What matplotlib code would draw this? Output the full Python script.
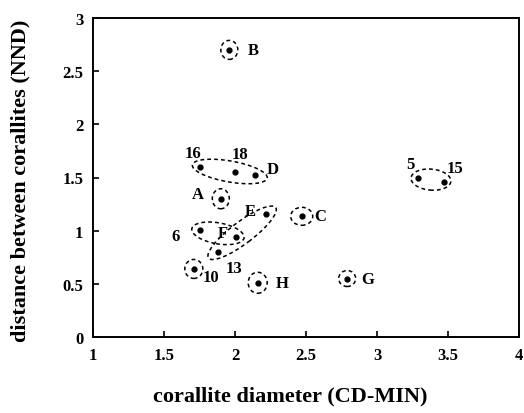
import matplotlib
matplotlib.use("Agg")
import matplotlib.pyplot as plt
import matplotlib.transforms as mtransforms
from matplotlib.patches import Ellipse
import numpy as np

# ---- data ----
labels = ["B", "16", "18", "D", "A", "E", "C", "6", "F", "13", "10", "H", "G", "5", "15"]
cd_min = [1.96, 1.75, 2.00, 2.14, 1.90, 2.22, 2.47, 1.75, 2.01, 1.88, 1.71, 2.16, 2.79, 3.29, 3.47]
nnd = [2.70, 1.60, 1.55, 1.52, 1.30, 1.16, 1.135, 1.01, 0.94, 0.80, 0.64, 0.51, 0.55, 1.50, 1.46]

# groups enclosed by dashed ellipses (members by label)
groups = [["B"], ["A"], ["C"], ["G"], ["H"], ["10"],
          ["16", "18", "D"], ["6", "F"], ["E", "13"], ["5", "15"]]

x_ticks = [1, 1.5, 2, 2.5, 3, 3.5, 4]
x_tick_labels = ["1", "1.5", "2", "2.5", "3", "3.5", "4"]
y_ticks = [0, 0.5, 1, 1.5, 2, 2.5, 3]
y_tick_labels = ["0", "0.5", "1", "1.5", "2", "2.5", "3"]

# ---- style (pixel sizes / offsets) ----
ell_style = {  # width px, height px, angle deg
    "B": (17, 19, 0), "A": (17, 20, 0), "C": (22, 18, 0), "G": (17, 16, 0),
    "H": (19, 21, 0), "10": (18, 19, 0),
    "16": (76, 21, -10), "6": (53, 21, -10), "E": (84, 22, 37), "5": (40, 21, -5),
}
label_off = {
    "B": (24, 0), "16": (-7, 14), "18": (5, 18), "D": (18, 6), "A": (-23, 5),
    "E": (-16, 3), "C": (18, 0), "6": (-24, -6), "F": (-14, 4), "13": (16, -16),
    "10": (17, -8), "H": (24, 0), "G": (21, 0), "5": (-8, 13), "15": (11, 14),
}

font = ["Liberation Serif", "DejaVu Serif"]
plt.rcParams["font.family"] = font
plt.rcParams["font.weight"] = "bold"

fig = plt.figure(figsize=(5.24, 4.14), dpi=100)
ax = fig.add_axes([93 / 524, 1 - 338 / 414, (519 - 93) / 524, (338 - 19) / 414])

ax.plot(cd_min, nnd, "o", color="black", markersize=3.5, zorder=3)
ax.set_xlim(1, 4)
ax.set_ylim(0, 3)
ax.set_xticks(x_ticks)
ax.set_xticklabels(x_tick_labels, fontsize=12, fontweight="bold")
ax.set_yticks(y_ticks)
ax.set_yticklabels(y_tick_labels, fontsize=12, fontweight="bold")
ax.tick_params(direction="in", length=4, width=1.2, pad=7)
for s in ax.spines.values():
    s.set_linewidth(1.4)

ax.set_xlabel("corallite diameter (CD-MIN)", fontsize=16, fontweight="bold")
ax.xaxis.label.set_va("center")
ax.xaxis.set_label_coords(0.462, -0.182)
ax.set_ylabel("distance between corallites (NND)", fontsize=16, fontweight="bold")
ax.yaxis.label.set_va("center")
ax.yaxis.set_label_coords(-0.171, 0.492)

px = fig.dpi / 100.0
pt = 72.0 / 100.0
idx = {l: i for i, l in enumerate(labels)}

for g in groups:
    cx = float(np.mean([cd_min[idx[m]] for m in g]))
    cy = float(np.mean([nnd[idx[m]] for m in g]))
    w, h, ang = ell_style[g[0]]
    tr = mtransforms.Affine2D().scale(px) + mtransforms.ScaledTranslation(cx, cy, ax.transData)
    e = Ellipse((0, 0), w, h, angle=ang, transform=tr, fill=False,
                edgecolor="black", linestyle=(0, (2.5, 2)), linewidth=1.1)
    ax.add_patch(e)

for l, x, y in zip(labels, cd_min, nnd):
    dx, dy = label_off[l]
    ax.annotate(l, (x, y), xytext=(dx * pt, dy * pt), textcoords="offset points",
                ha="center", va="center", fontsize=12, fontweight="bold")

fig.savefig("out.png", dpi=100)
